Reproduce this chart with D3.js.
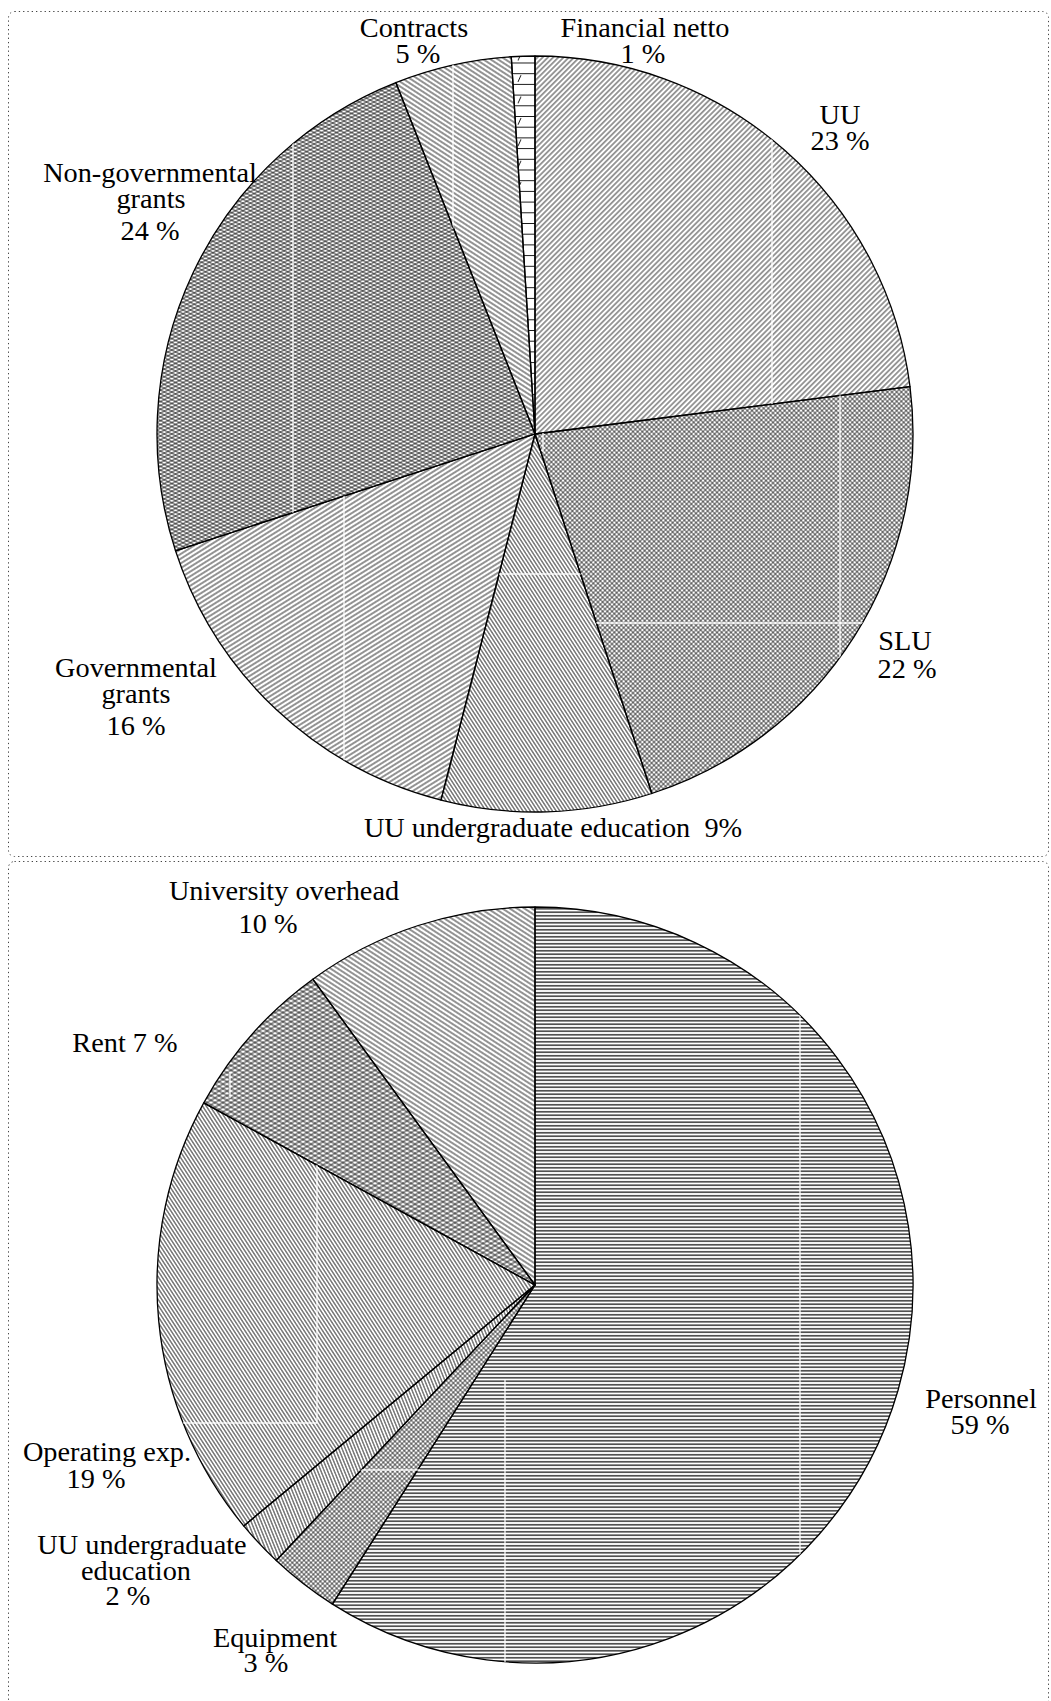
<!DOCTYPE html>
<html>
<head>
<meta charset="utf-8">
<script src="https://cdn.jsdelivr.net/npm/d3@7"></script>
<style>
  html, body { margin: 0; padding: 0; background: #fff; }
  svg { display: block; }
  text { font-family: "Liberation Serif", "Times New Roman", serif; font-size: 28.3px; fill: #000; }
</style>
</head>
<body>
<svg id="chart" width="1051" height="1701"></svg>
<script>
// Income: sources of funding, clockwise from twelve o'clock
const incomeCategories = ["UU", "SLU", "UU undergraduate education", "Governmental grants",
                          "Non-governmental grants", "Contracts", "Financial netto"];
const incomeShares = [23, 22, 9, 16, 24, 5, 1];
const incomeLabels = [
  ["UU", "23 %"],
  ["SLU", "22 %"],
  ["UU undergraduate education  9%"],
  ["Governmental", "grants", "16 %"],
  ["Non-governmental", "grants", "24 %"],
  ["Contracts", "5 %"],
  ["Financial netto", "1 %"]
];

// Expenditure, clockwise from twelve o'clock
const expenseCategories = ["Personnel", "Equipment", "UU undergraduate education",
                           "Operating exp.", "Rent", "University overhead"];
const expenseShares = [59, 3, 2, 19, 7, 10];
const expenseLabels = [
  ["Personnel", "59 %"],
  ["Equipment", "3 %"],
  ["UU undergraduate", "education", "2 %"],
  ["Operating exp.", "19 %"],
  ["Rent 7 %"],
  ["University overhead", "10 %"]
];

// ---- layout ----
const R = 378;
const incomeCenter = [535, 434];
const expenseCenter = [535, 1285];

// hatch fill for each slice (one or more pattern layers)
const incomeFills = [["diagUp45"], ["fineCross"], ["diagDownSteep"], ["diagUp30"],
                     ["meshA", "meshB"], ["diagDown30"], ["brick"]];
const expenseFills = [["horiz"], ["fineCross"], ["diagDownVSteep"], ["diagDownSteep"],
                      ["rentA", "rentB"], ["diagDown30"]];

// light seams where the hatch tiles meet, per slice: [x1, y1, x2, y2] (page coords)
const incomeSeams = [
  [[772, 40, 772, 420]],
  [[840, 380, 840, 820], [560, 623, 870, 623], [543, 433, 543, 452]],
  [[480, 574, 600, 574]],
  [[344, 380, 344, 820]],
  [[293, 40, 293, 520]],
  [[453, 40, 453, 430]],
  []
];
const expenseSeams = [
  [[800, 890, 800, 1670], [505, 1380, 505, 1670], [355, 1470, 420, 1470]],
  [[355, 1470, 420, 1470]],
  [],
  [[317, 1100, 317, 1423], [140, 1423, 317, 1423]],
  [[230, 1072, 230, 1098]],
  []
];

// label placement: one [x, baseline] per text line
const incomeLabelPos = [
  [[840, 124], [840, 150]],
  [[905, 650], [907, 678]],
  [[553, 837]],
  [[136, 677], [136, 703], [136, 735]],
  [[150, 182], [151, 208], [150, 240]],
  [[414, 37], [418, 63]],
  [[645, 37], [643, 63]]
];
const expenseLabelPos = [
  [[981, 1408], [980, 1434]],
  [[275, 1647], [266, 1672]],
  [[142, 1554], [136, 1580], [128, 1605]],
  [[107, 1461], [96, 1488]],
  [[125, 1052]],
  [[284, 900], [268, 933]]
];

const svg = d3.select("#chart");

// ---- hatch patterns ----
const defs = svg.append("defs");

function linePattern(id, angle, spacing, width) {
  const p = defs.append("pattern")
    .attr("id", id)
    .attr("patternUnits", "userSpaceOnUse")
    .attr("width", 20).attr("height", spacing)
    .attr("patternTransform", `rotate(${angle})`);
  p.append("line")
    .attr("x1", 0).attr("x2", 20)
    .attr("y1", spacing / 2).attr("y2", spacing / 2)
    .attr("stroke", "#000").attr("stroke-width", width);
}

function gridPattern(id, angle, spacing, width) {
  const p = defs.append("pattern")
    .attr("id", id)
    .attr("patternUnits", "userSpaceOnUse")
    .attr("width", spacing).attr("height", spacing)
    .attr("patternTransform", `rotate(${angle})`);
  p.append("path")
    .attr("d", `M0,${spacing / 2}H${spacing}M${spacing / 2},0V${spacing}`)
    .attr("stroke", "#000").attr("stroke-width", width).attr("fill", "none");
}

linePattern("diagUp45", -45, 3.7, 0.8);
linePattern("diagUp30", -32, 4.0, 0.85);
linePattern("diagDownSteep", 57, 3.1, 0.8);
linePattern("diagDownVSteep", 68, 3.1, 0.8);
linePattern("diagDown30", 33, 4.0, 0.85);
linePattern("meshA", 27, 3.4, 0.8);
linePattern("meshB", -27, 3.4, 0.8);
linePattern("rentA", 30, 4.0, 0.8);
linePattern("rentB", -30, 4.0, 0.8);
linePattern("horiz", 0, 3.5, 1.2);
gridPattern("fineCross", 45, 3.3, 0.62);

// brick-like pattern: horizontal rules with a small slash in alternate rows
(function () {
  const h = 10.7;
  const p = defs.append("pattern")
    .attr("id", "brick")
    .attr("patternUnits", "userSpaceOnUse")
    .attr("x", 0).attr("y", 3)
    .attr("width", 30).attr("height", 2 * h);
  p.append("path")
    .attr("d", `M0,0.5H30M0,${h + 0.5}H30M${13},${h - 2}L${16},${2}`)
    .attr("stroke", "#000").attr("stroke-width", 0.9).attr("fill", "none");
})();

// ---- frames ----
svg.append("rect")
  .attr("x", 8.5).attr("y", 11.5).attr("width", 1040).attr("height", 845)
  .attr("rx", 6).attr("fill", "none")
  .attr("stroke", "#444").attr("stroke-width", 1).attr("stroke-dasharray", "1.3 3");
svg.append("rect")
  .attr("x", 8.5).attr("y", 861.5).attr("width", 1040).attr("height", 900)
  .attr("rx", 6).attr("fill", "none")
  .attr("stroke", "#444").attr("stroke-width", 1).attr("stroke-dasharray", "1.3 3");

// ---- pies ----
const pie = d3.pie().sort(null).value(d => d).startAngle(0).endAngle(2 * Math.PI);
const arc = d3.arc().innerRadius(0).outerRadius(R);

function drawPie(key, center, shares, categories, fills, seams, labels, labelPos) {
  const g = svg.append("g").attr("transform", `translate(${center[0]},${center[1]})`);
  const arcs = pie(shares);

  // clip paths so seams stay inside their own slice
  arcs.forEach((d, i) => {
    defs.append("clipPath").attr("id", `${key}-clip-${i}`)
      .append("path")
      .attr("transform", `translate(${center[0]},${center[1]})`)
      .attr("d", arc(d));
  });

  const slice = g.selectAll("g.slice")
    .data(arcs)
    .join("g")
    .attr("class", "slice")
    .attr("data-category", (d, i) => categories[i]);

  slice.append("path").attr("d", arc).attr("fill", "#fff");
  slice.each(function (d, i) {
    const s = d3.select(this);
    fills[i].forEach(id => s.append("path").attr("d", arc(d)).attr("fill", `url(#${id})`));
  });

  // tile seams
  const seamG = svg.append("g");
  seams.forEach((list, i) => {
    const sg = seamG.append("g").attr("clip-path", `url(#${key}-clip-${i})`);
    list.forEach(s => sg.append("line")
      .attr("x1", s[0]).attr("y1", s[1]).attr("x2", s[2]).attr("y2", s[3])
      .attr("stroke", "#fff").attr("stroke-width", 1.4).attr("stroke-opacity", 0.9));
  });

  g.append("g").selectAll("path")
    .data(arcs)
    .join("path")
    .attr("d", arc)
    .attr("fill", "none").attr("stroke", "#000").attr("stroke-width", 1.3)
    .attr("stroke-linejoin", "round");

  const lbl = svg.append("g");
  labels.forEach((lines, i) => {
    lines.forEach((t, j) => {
      lbl.append("text")
        .attr("x", labelPos[i][j][0])
        .attr("y", labelPos[i][j][1])
        .attr("text-anchor", "middle")
        .style("white-space", "pre")
        .text(t);
    });
  });
}

drawPie("inc", incomeCenter, incomeShares, incomeCategories, incomeFills, incomeSeams, incomeLabels, incomeLabelPos);
drawPie("exp", expenseCenter, expenseShares, expenseCategories, expenseFills, expenseSeams, expenseLabels, expenseLabelPos);
</script>
</body>
</html>
